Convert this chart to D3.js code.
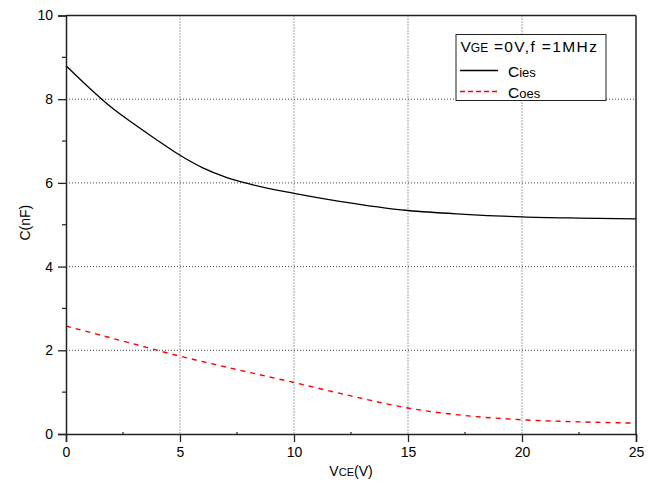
<!DOCTYPE html>
<html>
<head>
<meta charset="utf-8">
<script src="https://cdn.jsdelivr.net/npm/d3@7"></script>
<style>
  body { margin: 0; background: #fff; }
  text { font-family: "Liberation Sans", Arial, sans-serif; fill: #000; }
</style>
</head>
<body>
<div id="chart"></div>
<script>
// V_CE (V) sample points
var vceIes = [0, 1, 2, 3, 4, 5, 6, 7, 8, 10, 12, 15, 17.5, 20, 22.5, 25];
var cies   = [8.80, 8.28, 7.80, 7.40, 7.02, 6.66, 6.36, 6.14, 5.98, 5.75, 5.56, 5.34, 5.25, 5.19, 5.16, 5.14];

var vceOes = [0, 2.5, 5, 7.5, 10, 12.5, 15, 17.5, 20, 22.5, 25];
var coes   = [2.58, 2.22, 1.86, 1.54, 1.23, 0.91, 0.62, 0.44, 0.34, 0.29, 0.26];

var xTicks = [0, 5, 10, 15, 20, 25];
var yTicks = [0, 2, 4, 6, 8, 10];
var xMinor = [2.5, 7.5, 12.5, 17.5, 22.5];
var yMinor = [1, 3, 5, 7, 9];

var W = 656, H = 483;
var margin = { left: 66, right: 20, top: 15.5, bottom: 49 };
var width = W - margin.left - margin.right,
    height = H - margin.top - margin.bottom;

var svg = d3.select("#chart").append("svg")
  .attr("width", W).attr("height", H);

var g = svg.append("g")
  .attr("transform", "translate(" + margin.left + "," + margin.top + ")");

var x = d3.scaleLinear().domain([0, 25]).range([0, width]);
var y = d3.scaleLinear().domain([0, 10]).range([height, 0]);

// grid
g.selectAll(".gx").data(xTicks.slice(1, -1)).enter().append("line")
  .attr("x1", d => x(d)).attr("x2", d => x(d))
  .attr("y1", 0).attr("y2", height)
  .attr("stroke", "#444").attr("stroke-dasharray", "1,2");
g.selectAll(".gy").data(yTicks.slice(1, -1)).enter().append("line")
  .attr("y1", d => y(d)).attr("y2", d => y(d))
  .attr("x1", 0).attr("x2", width)
  .attr("stroke", "#444").attr("stroke-dasharray", "1,2");

// curves
var line = d3.line().x(d => x(d[0])).y(d => y(d[1])).curve(d3.curveMonotoneX);

g.append("path")
  .datum(d3.zip(vceIes, cies))
  .attr("d", line)
  .attr("fill", "none").attr("stroke", "#000").attr("stroke-width", 1.3);

g.append("path")
  .datum(d3.zip(vceOes, coes))
  .attr("d", line)
  .attr("fill", "none").attr("stroke", "#ff0000").attr("stroke-width", 1.4)
  .attr("stroke-dasharray", "5,5");

// axes
var xAxis = g.append("g").attr("transform", "translate(0," + height + ")")
  .call(d3.axisBottom(x).tickValues(xTicks).tickSize(8).tickPadding(5));
var yAxis = g.append("g")
  .call(d3.axisLeft(y).tickValues(yTicks).tickSize(8).tickPadding(5));

[xAxis, yAxis].forEach(function(a) {
  a.select(".domain").attr("stroke", "#222").attr("stroke-width", 1.5);
  a.selectAll(".tick line").attr("stroke", "#222").attr("stroke-width", 1.3);
  a.selectAll("text").style("font-size", "14px").attr("fill", "#000");
});

// minor ticks
g.selectAll(".mx").data(xMinor).enter().append("line")
  .attr("x1", d => x(d)).attr("x2", d => x(d))
  .attr("y1", height).attr("y2", height - 2)
  .attr("stroke", "#222").attr("stroke-width", 1.2);
g.selectAll(".my").data(yMinor).enter().append("line")
  .attr("y1", d => y(d)).attr("y2", d => y(d))
  .attr("x1", 0).attr("x2", -4)
  .attr("stroke", "#222").attr("stroke-width", 1.2);

// top and right frame
g.append("line").attr("x1", 0).attr("x2", width).attr("y1", 0).attr("y2", 0)
  .attr("stroke", "#222").attr("stroke-width", 1.5);
g.append("line").attr("x1", width).attr("x2", width).attr("y1", 0).attr("y2", height)
  .attr("stroke", "#222").attr("stroke-width", 1.5);

// axis titles
var xt = svg.append("text")
  .attr("x", margin.left + width / 2).attr("y", 476)
  .attr("text-anchor", "middle").style("font-size", "14px");
xt.append("tspan").text("V");
xt.append("tspan").style("font-size", "11px").text("CE");
xt.append("tspan").text("(V)");

svg.append("text")
  .attr("transform", "translate(30," + (margin.top + y(5.05)) + ") rotate(-90)")
  .attr("text-anchor", "middle").style("font-size", "14px")
  .text("C(nF)");

// legend
var lg = svg.append("g").attr("transform", "translate(456,34.5)");
lg.append("rect").attr("width", 150).attr("height", 66)
  .attr("fill", "#fff").attr("stroke", "#222").attr("stroke-width", 1);
var t1 = lg.append("text").attr("x", 4.5).attr("y", 17.5).style("font-size", "15.5px");
t1.append("tspan").text("V");
t1.append("tspan").style("font-size", "12px").text("GE");
t1.append("tspan").style("letter-spacing", "1.4px").text(" =0V,f =1MHz");

var legendItems = [
  { label: "C", sub: "ies", color: "#000", dash: null },
  { label: "C", sub: "oes", color: "#ff0000", dash: "5,3" }
];
legendItems.forEach(function(d, i) {
  var yy = 36 + i * 21;
  lg.append("line").attr("x1", 4).attr("x2", 42).attr("y1", yy).attr("y2", yy)
    .attr("stroke", d.color).attr("stroke-width", 1.3)
    .attr("stroke-dasharray", d.dash);
  var t = lg.append("text").attr("x", 52).attr("y", yy + 6).style("font-size", "15.5px");
  t.append("tspan").text(d.label);
  t.append("tspan").style("font-size", "13px").text(d.sub);
});
</script>
</body>
</html>
